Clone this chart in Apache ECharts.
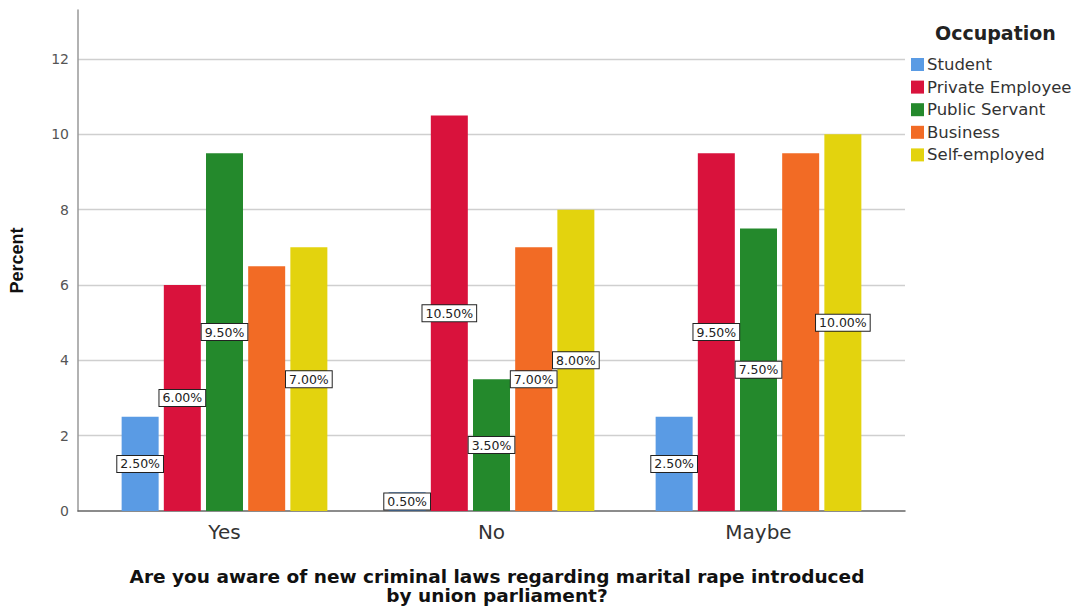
<!DOCTYPE html>
<html>
<head>
<meta charset="utf-8">
<script src="https://cdn.jsdelivr.net/npm/echarts@6/dist/echarts.min.js"></script>
<style>
html,body{margin:0;padding:0;background:#fff;}
#chart{width:1080px;height:609px;}
</style>
</head>
<body>
<div id="chart"></div>
<script>
// ---- data ----
const categories = ['Yes', 'No', 'Maybe'];
const seriesNames = ['Student', 'Private Employee', 'Public Servant', 'Business', 'Self-employed'];
const student = [2.5, 0.5, 2.5];
const privateEmployee = [6.0, 10.5, 9.5];
const publicServant = [9.5, 3.5, 7.5];
const business = [6.5, 7.0, 9.5];
const selfEmployed = [7.0, 8.0, 10.0];
const hiddenLabelIdx = { 'Business': [0, 2] };
const yTicks = [0, 2, 4, 6, 8, 10, 12];
const colors = ['#5a9be4', '#d9123c', '#24892c', '#f26b25', '#e3d30e'];

const values = [student, privateEmployee, publicServant, business, selfEmployed];

const chart = echarts.init(document.getElementById('chart'), null, {renderer: 'svg'});

const TOP = 10, BOTTOM = 98;
const yMax = 13.3;

const series = seriesNames.map((name, i) => ({
  name: name,
  type: 'bar',
  xAxisIndex: 1,
  yAxisIndex: 1,
  barWidth: 37,
  barGap: '14%',
  itemStyle: { color: colors[i] },
  data: values[i].map((v, j) => {
    const hide = (hiddenLabelIdx[name] || []).includes(j);
    return hide ? { value: v, label: { show: false } } : { value: v };
  }),
  label: {
    show: true,
    position: 'inside',
    formatter: p => p.value.toFixed(2) + '%',
    fontFamily: 'DejaVu Sans',
    fontSize: 12.5,
    color: '#222',
    backgroundColor: '#fff',
    borderColor: '#222',
    borderWidth: 1,
    padding: [2, 3, 1, 3]
  }
}));

chart.setOption({
  animation: false,
  backgroundColor: '#fff',
  title: [
    {
      text: 'Are you aware of new criminal laws regarding marital rape introduced\nby union parliament?',
      left: 492, top: 562, textAlign: 'center',
      textStyle: { fontFamily: 'DejaVu Sans', fontWeight: 'bold', fontSize: 18.5, color: '#111', lineHeight: 19 }
    },
    {
      text: 'Occupation',
      left: 930, top: 18,
      textStyle: { fontFamily: 'DejaVu Sans', fontWeight: 'bold', fontSize: 19, color: '#222' }
    }
  ],
  legend: {
    orient: 'vertical',
    left: 906, top: 51,
    itemWidth: 13, itemHeight: 13, itemGap: 5.6,
    icon: 'rect',
    data: seriesNames,
    textStyle: { fontFamily: 'DejaVu Sans', fontSize: 16.5, color: '#333', padding: [0, 0, 0, -2] }
  },
  grid: [
    { left: 77, right: 175, top: TOP, bottom: BOTTOM },
    { left: 91, right: 188, top: TOP, bottom: BOTTOM }
  ],
  xAxis: [
    {
      gridIndex: 0, type: 'value', min: 0, max: 1,
      axisLine: { show: true, lineStyle: { color: '#666', width: 1.5 } },
      axisTick: { show: false }, axisLabel: { show: false }, splitLine: { show: false }
    },
    {
      gridIndex: 1, type: 'category', data: categories,
      axisLine: { show: false }, axisTick: { show: false },
      axisLabel: { fontFamily: 'DejaVu Sans', fontSize: 20, color: '#333', margin: 11 }
    }
  ],
  yAxis: [
    {
      gridIndex: 0, type: 'value', min: 0, max: yMax, interval: 2,
      name: 'Percent', nameLocation: 'middle', nameRotate: 90, nameGap: 52,
      nameTextStyle: { fontFamily: 'Liberation Sans', fontWeight: 'bold', fontSize: 18, color: '#111' },
      axisLine: { show: true, lineStyle: { color: '#999', width: 1.5 } },
      axisTick: { show: false },
      axisLabel: {
        fontFamily: 'DejaVu Sans', fontSize: 14, color: '#555', margin: 9,
        showMaxLabel: false,
        formatter: v => yTicks.includes(v) ? String(v) : ''
      },
      splitLine: {
        show: true, showMaxLine: false, showMinLine: false,
        lineStyle: { color: ['#cfcfcf', '#cfcfcf', '#cfcfcf', '#cfcfcf', '#cfcfcf', '#cfcfcf', '#cfcfcf', 'rgba(0,0,0,0)'], width: 1.3 }
      }
    },
    {
      gridIndex: 1, type: 'value', min: 0, max: yMax, show: false, splitLine: { show: false }
    }
  ],
  series: series
});
</script>
</body>
</html>
